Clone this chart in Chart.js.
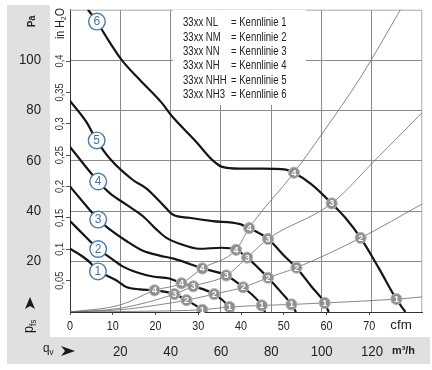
<!DOCTYPE html>
<html>
<head>
<meta charset="utf-8">
<script src="https://cdn.jsdelivr.net/npm/chart.js@4.4.1/dist/chart.umd.min.js"></script>
<style>
  html,body{margin:0;padding:0;background:#fff;}
  #wrap{width:432px;height:370px;}
</style>
</head>
<body>
<div id="wrap"><canvas id="c" width="432" height="370"></canvas></div>
<script>
// Kennlinien 33xx — Druck p_fs (Pa) über Volumenstrom q_v (m³/h)
const FONT = "'Liberation Sans',Arial,Helvetica,sans-serif";

// fan curves 1..6: [q m³/h, p Pa]
const curve1 = [[0,25.1],[4,22.7],[7.9,19.7],[11.1,16.1],[14.5,14.5],[18.5,12.5],[22.4,9.9],[27.7,9.0],[33.6,8.6],[41.5,7.1],[46.3,4.7],[52.6,0.9],[53.8,0]];
const curve2 = [[0,36.1],[6.6,29.5],[11.2,25.0],[15.8,21.7],[21.1,18.0],[26.4,15.8],[32.9,14.1],[39.5,13.3],[44.3,11.4],[49.0,10.2],[57.3,7.1],[63.4,2.0],[64.8,0]];
const curve3 = [[0,49.8],[6.6,42.0],[11.2,36.7],[15.8,32.8],[22.4,28.2],[29.0,24.3],[35.6,22.4],[41.5,21.1],[52.6,17.3],[62.1,14.5],[68.8,9.8],[76.2,2.6],[77.5,0]];
const curve4 = [[0,65.5],[11.2,51.8],[15.8,47.2],[22.4,42.6],[29.0,38.0],[34.3,32.8],[38.2,29.5],[43.5,27.1],[51.4,25.1],[60.1,25.5],[66.0,24.7],[70.4,21.6],[78.7,13.6],[84.2,7.5],[88.0,3.0],[89.8,0]];
const curve5 = [[0,83.8],[6.6,75.3],[10.6,68.1],[15.8,60.9],[25.0,52.4],[30.3,49.1],[36.9,42.6],[40.8,38.7],[47.4,37.4],[56.7,36.1],[67.2,35.0],[71.2,33.3],[78.7,29.0],[85.7,21.7],[90.0,17.6],[96.1,9.9],[101.2,3.6],[102.8,0]];
const curve6 = [[7.1,120],[10.7,115.3],[13.8,110.2],[20.6,100],[27.7,92.2],[36.4,83.1],[40.3,78.0],[50.2,67.5],[56.5,60.4],[60.5,57.6],[67.2,56.9],[76.3,56.9],[85.8,56.5],[89.0,55.3],[96.1,50.6],[104.0,43.1],[109.5,37.3],[115.5,29.4],[122.6,17.6],[129.7,5.1],[133.3,0]];

// operating points (grey circles), one list per system curve
const op1 = [[52.6,0.9],[63.4,2.0],[76.2,2.6],[88.0,3.0],[101.2,3.6],[129.7,5.1]];
const op2 = [[46.3,4.7],[57.3,7.1],[68.8,9.8],[78.7,13.6],[90.0,17.6],[115.5,29.4]];
const op3 = [[41.5,7.1],[49.0,10.2],[62.1,14.5],[70.4,21.6],[78.7,29.0],[104.0,43.1]];
const op4 = [[33.6,8.6],[44.3,11.4],[52.6,17.3],[66.0,24.7],[71.2,33.3],[89.0,55.3]];

// system curves (thin lines from the origin through the grey points)
const sys1 = [[0,0],[30,0.3],[52.6,0.9],[63.4,2.0],[76.2,2.6],[88.0,3.0],[101.2,3.6],[129.7,5.1],[140,6.0]];
const sys2 = [[0,0],[20,0.9],[35,2.8],[46.3,4.7],[57.3,7.1],[68.8,9.8],[78.7,13.6],[90.0,17.6],[115.5,29.4],[140,42.9]];
const sys3 = [[0,0],[20,1.5],[41.5,7.1],[49.0,10.2],[62.1,14.5],[70.4,21.6],[78.7,29.0],[104.0,43.1],[120.6,59.6],[140,79.2]];
const sys4 = [[0,0],[20,2.8],[33.6,8.6],[44.3,11.4],[52.6,17.3],[66.0,24.7],[71.2,33.3],[89.0,55.3],[100,70.5],[116,94],[131.3,120]];

// curve number tags (blue circles)
const tagPts = [[11.1,16.1],[11.2,25.0],[11.2,36.7],[11.2,51.8],[10.6,68.1],[10.7,115.3]];
const tagText = ["1","2","3","4","5","6"];

// axes
const paTicks = [20,40,60,80,100];
const inTicks = [0.05,0.1,0.15,0.2,0.25,0.3,0.35,0.4];
const m3hTicks = [20,40,60,80,100,120];
const cfmTicks = [0,10,20,30,40,50,60,70];
const legendModels = ["33xx NL","33xx NM","33xx NN","33xx NH","33xx NHH","33xx NH3"];
const legendCurves = ["= Kennlinie 1","= Kennlinie 2","= Kennlinie 3","= Kennlinie 4","= Kennlinie 5","= Kennlinie 6"];

const PA_PER_INH2O = 249.09, M3H_PER_CFM = 1.699;

const xy = a => a.map(p => ({x:p[0], y:p[1]}));

function fanSet(d){ return {data:xy(d), showLine:true, borderColor:"#151515", borderWidth:2.2, pointRadius:0, cubicInterpolationMode:"monotone", order:1}; }
function sysSet(d){ return {data:xy(d), showLine:true, borderColor:"#6a6a6a", borderWidth:0.8, pointRadius:0, cubicInterpolationMode:"monotone", order:2}; }
function opSet(d,n){ return {data:xy(d), showLine:false, pointRadius:5.6, pointBackgroundColor:"#8d8f93", pointBorderColor:"#b4b6b9", pointBorderWidth:1, order:0,
  tags:d.map(()=>String(n)), tagSize:9, tagWeight:"bold", tagColor:"#fff"}; }

// horizontal squeeze so that `sample` is `target` px wide
function fit(ctx, font, sample, target){
  ctx.save(); ctx.font=font; const w=ctx.measureText(sample).width; ctx.restore();
  return target/w;
}
function txt(ctx, s, x, y, o){
  ctx.save();
  ctx.translate(x,y);
  if(o.rot) ctx.rotate(o.rot);
  ctx.scale(o.sx||1,1);
  ctx.font=o.font;
  ctx.textAlign=o.align||"center"; ctx.textBaseline=o.base||"middle";
  ctx.fillStyle=o.color||"#222";
  ctx.fillText(s,0,0);
  const w=ctx.measureText(s).width*(o.sx||1);
  ctx.restore();
  return w;
}

const extras = {
  id:"extras",
  beforeDraw(chart){
    const ctx=chart.ctx; ctx.save();
    ctx.fillStyle="#dfe0e2";
    ctx.fillRect(7,5,43,332);
    ctx.fillRect(7,337,423,27);
    ctx.restore();
  },
  beforeDatasetsDraw(chart){
    const {ctx, chartArea:a} = chart;
    ctx.save();
    ctx.strokeStyle="#a8a8a8"; ctx.lineWidth=1;
    ctx.beginPath();
    ctx.moveTo(a.left, a.top+0.5); ctx.lineTo(a.right-0.5, a.top+0.5); ctx.lineTo(a.right-0.5, a.bottom);
    ctx.stroke();
    // legend box
    ctx.fillStyle="#fff"; ctx.fillRect(173,10,133,95);
    ctx.restore();
    const f="12px "+FONT, sx=fit(ctx,f,legendCurves[0],55.5);
    legendModels.forEach((m,i)=>{
      const y=23+i*14.3;
      txt(ctx,m,183,y,{font:f,sx,align:"left"});
      txt(ctx,legendCurves[i],231,y,{font:f,sx,align:"left"});
    });
  },
  afterDatasetsDraw(chart){
    const ctx=chart.ctx;
    chart.data.datasets.forEach((ds,i)=>{
      if(!ds.tags) return;
      const f=ds.tagWeight+" "+ds.tagSize+"px "+FONT;
      chart.getDatasetMeta(i).data.forEach((el,j)=>
        txt(ctx, ds.tags[j], el.x, el.y+0.5, {font:f, color:ds.tagColor}));
    });
  },
  afterDraw(chart){
    const ctx=chart.ctx, sc=chart.scales;
    const up=-Math.PI/2;
    // tick labels
    let f="14px "+FONT, sx=fit(ctx,f,"80",14.7);
    paTicks.forEach(v=>txt(ctx,String(v),41,sc.y.getPixelForValue(v),{font:f,sx,align:"right"}));
    f="11px "+FONT; sx=fit(ctx,f,"0,35",18.3);
    inTicks.forEach(v=>txt(ctx,String(v).replace(".",","),60,sc.yIn.getPixelForValue(v),{font:f,sx,rot:up,color:"#333"}));
    f="15px "+FONT; sx=fit(ctx,f,"100",22);
    m3hTicks.forEach(v=>txt(ctx,String(v),sc.x.getPixelForValue(v),351.5,{font:f,sx}));
    f="12px "+FONT; sx=fit(ctx,f,"60",12);
    cfmTicks.forEach(v=>txt(ctx,String(v),sc.xCfm.getPixelForValue(v),327,{font:f,sx}));
    // in H2O
    f="12px "+FONT; const fs="8px "+FONT;
    sx=0.88;
    let w=txt(ctx,"in H",63.5,39,{font:f,sx,rot:up,align:"left",base:"alphabetic"});
    const w2=txt(ctx,"2",66,39-w,{font:fs,sx,rot:up,align:"left",base:"alphabetic"});
    txt(ctx,"O",63.5,39-w-w2,{font:f,sx,rot:up,align:"left",base:"alphabetic"});
    // Pa
    txt(ctx,"Pa",34.5,27,{font:"bold 11px "+FONT,sx:0.85,rot:up,align:"left",base:"alphabetic"});
    // arrows
    ctx.save();
    ctx.fillStyle="#1a1a1a";
    ctx.beginPath(); ctx.moveTo(30,297); ctx.lineTo(35,309); ctx.lineTo(30,306); ctx.lineTo(25,309); ctx.closePath(); ctx.fill();
    ctx.beginPath(); ctx.moveTo(75,351); ctx.lineTo(61,346); ctx.lineTo(65,351); ctx.lineTo(61,356); ctx.closePath(); ctx.fill();
    ctx.restore();
    // p_fs
    w=txt(ctx,"p",33,333,{font:"14px "+FONT,sx:0.9,rot:up,align:"left",base:"alphabetic",color:"#1a1a1a"});
    txt(ctx,"fs",36,333-w,{font:"9px "+FONT,sx:0.9,rot:up,align:"left",base:"alphabetic",color:"#1a1a1a"});
    // q_v
    w=txt(ctx,"q",43,352,{font:"13px "+FONT,sx:0.9,align:"left",base:"alphabetic",color:"#1a1a1a"});
    txt(ctx,"v",43+w,355,{font:"9px "+FONT,sx:0.9,align:"left",base:"alphabetic",color:"#1a1a1a"});
    // units
    f="12px "+FONT;
    txt(ctx,"cfm",401,326,{font:f,sx:fit(ctx,f,"cfm",21.5)});
    f="bold 11px "+FONT;
    txt(ctx,"m³/h",403.5,351,{font:f,sx:fit(ctx,f,"m³/h",23)});
  }
};

const ticksAt = list => s => { s.ticks = list.map(v=>({value:v})); };

new Chart(document.getElementById("c"), {
  type:"scatter",
  data:{ datasets:[
    {data:xy(tagPts), showLine:false, pointRadius:8.3, pointBackgroundColor:"#fff", pointBorderColor:"#4f7aa8", pointBorderWidth:1.4, order:0,
      tags:tagText, tagSize:12, tagWeight:"", tagColor:"#4a73a0"},
    opSet(op1,1), opSet(op2,2), opSet(op3,3), opSet(op4,4),
    fanSet(curve1), fanSet(curve2), fanSet(curve3), fanSet(curve4), fanSet(curve5), fanSet(curve6),
    sysSet(sys1), sysSet(sys2), sysSet(sys3), sysSet(sys4)
  ]},
  options:{
    responsive:false, animation:false, devicePixelRatio:1,
    layout:{padding:{left:7,right:8,top:6,bottom:6}},
    plugins:{legend:{display:false}, tooltip:{enabled:false}},
    scales:{
      x:{type:"linear", position:"bottom", weight:1, min:0, max:140,
        afterBuildTicks:ticksAt(m3hTicks), afterFit:s=>{s.height=27;},
        grid:{color:"#8a8a8a", lineWidth:1, drawTicks:false}, border:{display:false},
        ticks:{display:false}},
      xCfm:{type:"linear", position:"bottom", weight:0, min:0, max:140/M3H_PER_CFM,
        afterBuildTicks:ticksAt(cfmTicks), afterFit:s=>{s.height=25;},
        grid:{drawOnChartArea:false, tickLength:3, color:"#555"}, border:{display:true, color:"#333", width:1},
        ticks:{display:false}},
      y:{type:"linear", position:"left", weight:1, min:0, max:120,
        afterBuildTicks:ticksAt(paTicks), afterFit:s=>{s.width=43;},
        grid:{color:"#8a8a8a", lineWidth:1, drawTicks:false}, border:{display:false},
        ticks:{display:false}},
      yIn:{type:"linear", position:"left", weight:0, min:0, max:120/PA_PER_INH2O,
        afterBuildTicks:ticksAt(inTicks), afterFit:s=>{s.width=20;},
        grid:{drawOnChartArea:false, tickLength:4, color:"#555"}, border:{display:true, color:"#333", width:1},
        ticks:{display:false}}
    }
  },
  plugins:[extras]
});
</script>
</body>
</html>
